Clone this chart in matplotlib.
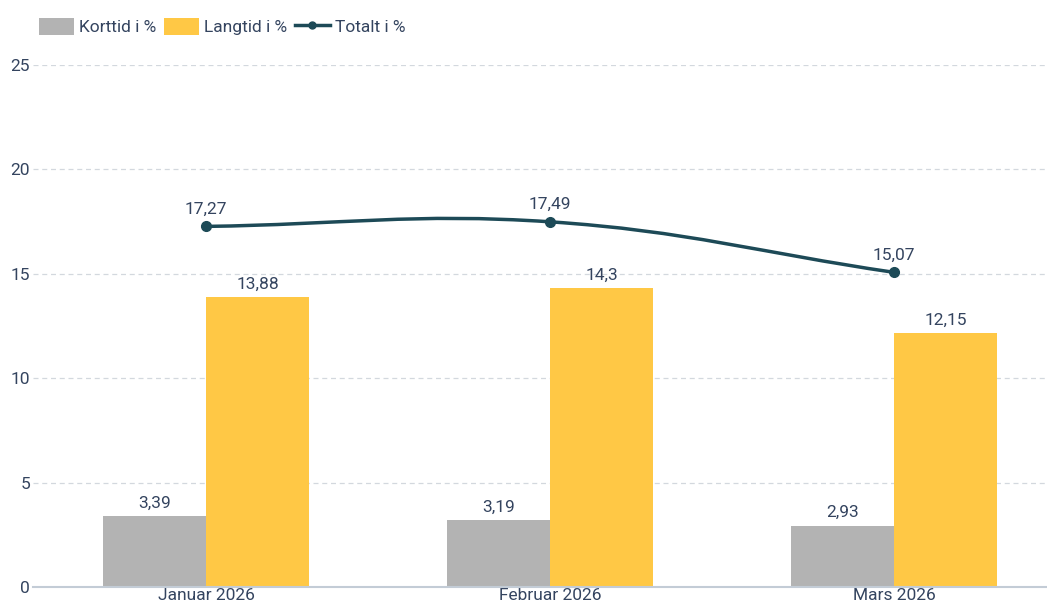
import numpy as np
from matplotlib import pyplot as plt
from matplotlib.path import Path
from matplotlib.patches import PathPatch
from matplotlib.lines import Line2D
from matplotlib.patches import Patch

plt.rcParams['font.family'] = ['Roboto', 'DejaVu Sans']

months = ["Januar 2026", "Februar 2026", "Mars 2026"]
korttid = [3.39, 3.19, 2.93]
langtid = [13.88, 14.3, 12.15]
totalt = [17.27, 17.49, 15.07]

GRAY = "#b3b3b3"
YELLOW = "#ffc845"
LINE = "#1d4a57"
TEXT = "#34445f"
FS = 12.5


def fmt(v):
    return ("%g" % v).replace(".", ",")


def bezier_path(xs, ys, sx, sy, tension=0.4):
    # smooth curve like chart.js (control points computed in pixel space)
    px = np.array(xs) * sx
    py = np.array(ys) * sy
    n = len(px)
    verts = [(xs[0], ys[0])]
    codes = [Path.MOVETO]
    cps = []
    for i in range(n):
        p0 = (px[max(i - 1, 0)], py[max(i - 1, 0)])
        p1 = (px[i], py[i])
        p2 = (px[min(i + 1, n - 1)], py[min(i + 1, n - 1)])
        d01 = np.hypot(p1[0] - p0[0], p1[1] - p0[1])
        d12 = np.hypot(p2[0] - p1[0], p2[1] - p1[1])
        s01 = d01 / (d01 + d12) if d01 + d12 else 0
        s12 = d12 / (d01 + d12) if d01 + d12 else 0
        fa, fb = tension * s01, tension * s12
        prev = (p1[0] - fa * (p2[0] - p0[0]), p1[1] - fa * (p2[1] - p0[1]))
        nxt = (p1[0] + fb * (p2[0] - p0[0]), p1[1] + fb * (p2[1] - p0[1]))
        cps.append((prev, nxt))
    for i in range(1, n):
        a = cps[i - 1][1]
        b = cps[i][0]
        verts += [(a[0] / sx, a[1] / sy), (b[0] / sx, b[1] / sy), (xs[i], ys[i])]
        codes += [Path.CURVE4] * 3
    return Path(verts, codes)


fig = plt.figure(figsize=(10.47, 6.05), dpi=100)
ax = fig.add_axes([33 / 1047, 1 - 587 / 605, 1 - 33 / 1047, (587 - 65) / 605])

x = np.arange(len(months))
w = 0.3
ax.bar(x - w / 2, korttid, w, color=GRAY, zorder=2)
ax.bar(x + w / 2, langtid, w, color=YELLOW, zorder=2)

for xi, v in zip(x - w / 2, korttid):
    ax.annotate(fmt(v), (xi, v), xytext=(0, 4), textcoords="offset points",
                ha="center", va="bottom", fontsize=FS, color=TEXT)
for xi, v in zip(x + w / 2, langtid):
    ax.annotate(fmt(v), (xi, v), xytext=(0, 4), textcoords="offset points",
                ha="center", va="bottom", fontsize=FS, color=TEXT)

path = bezier_path(list(x), totalt, 344.0, 20.88)
ax.add_patch(PathPatch(path, facecolor="none", edgecolor=LINE, lw=2.5, zorder=3))
ax.plot(x, totalt, "o", color=LINE, ms=7, zorder=4)
for xi, v in zip(x, totalt):
    ax.annotate(fmt(v), (xi, v), xytext=(0, 7), textcoords="offset points",
                ha="center", va="bottom", fontsize=FS, color=TEXT)

ax.set_xlim(-0.503, 2.445)
ax.set_ylim(0, 25)
ax.set_yticks([0, 5, 10, 15, 20, 25])
ax.set_xticks(x)
ax.set_xticklabels(months)
ax.tick_params(axis="both", length=0, labelsize=FS, labelcolor=TEXT)
ax.tick_params(axis="y", pad=2)
ax.tick_params(axis="x", pad=1)
ax.grid(axis="y", color="#d3d8de", linestyle=(0, (4, 3)), lw=0.9, zorder=0)
for s in ["top", "right", "left"]:
    ax.spines[s].set_visible(False)
ax.spines["bottom"].set_color("#c3ccd6")
ax.spines["bottom"].set_linewidth(1.5)

handles = [Patch(facecolor=GRAY, label="Korttid i %"),
           Patch(facecolor=YELLOW, label="Langtid i %"),
           Line2D([], [], color=LINE, lw=2.5, marker="o", ms=5, label="Totalt i %")]
fig.legend(handles=handles, loc="upper left", bbox_to_anchor=(32 / 1047, 1 - 11 / 605),
           ncol=3, frameon=False, fontsize=FS, labelcolor=TEXT,
           handlelength=2.0, handleheight=1.15, handletextpad=0.3, columnspacing=0.45,
           borderaxespad=0.0)

fig.savefig("out.png", dpi=100)
